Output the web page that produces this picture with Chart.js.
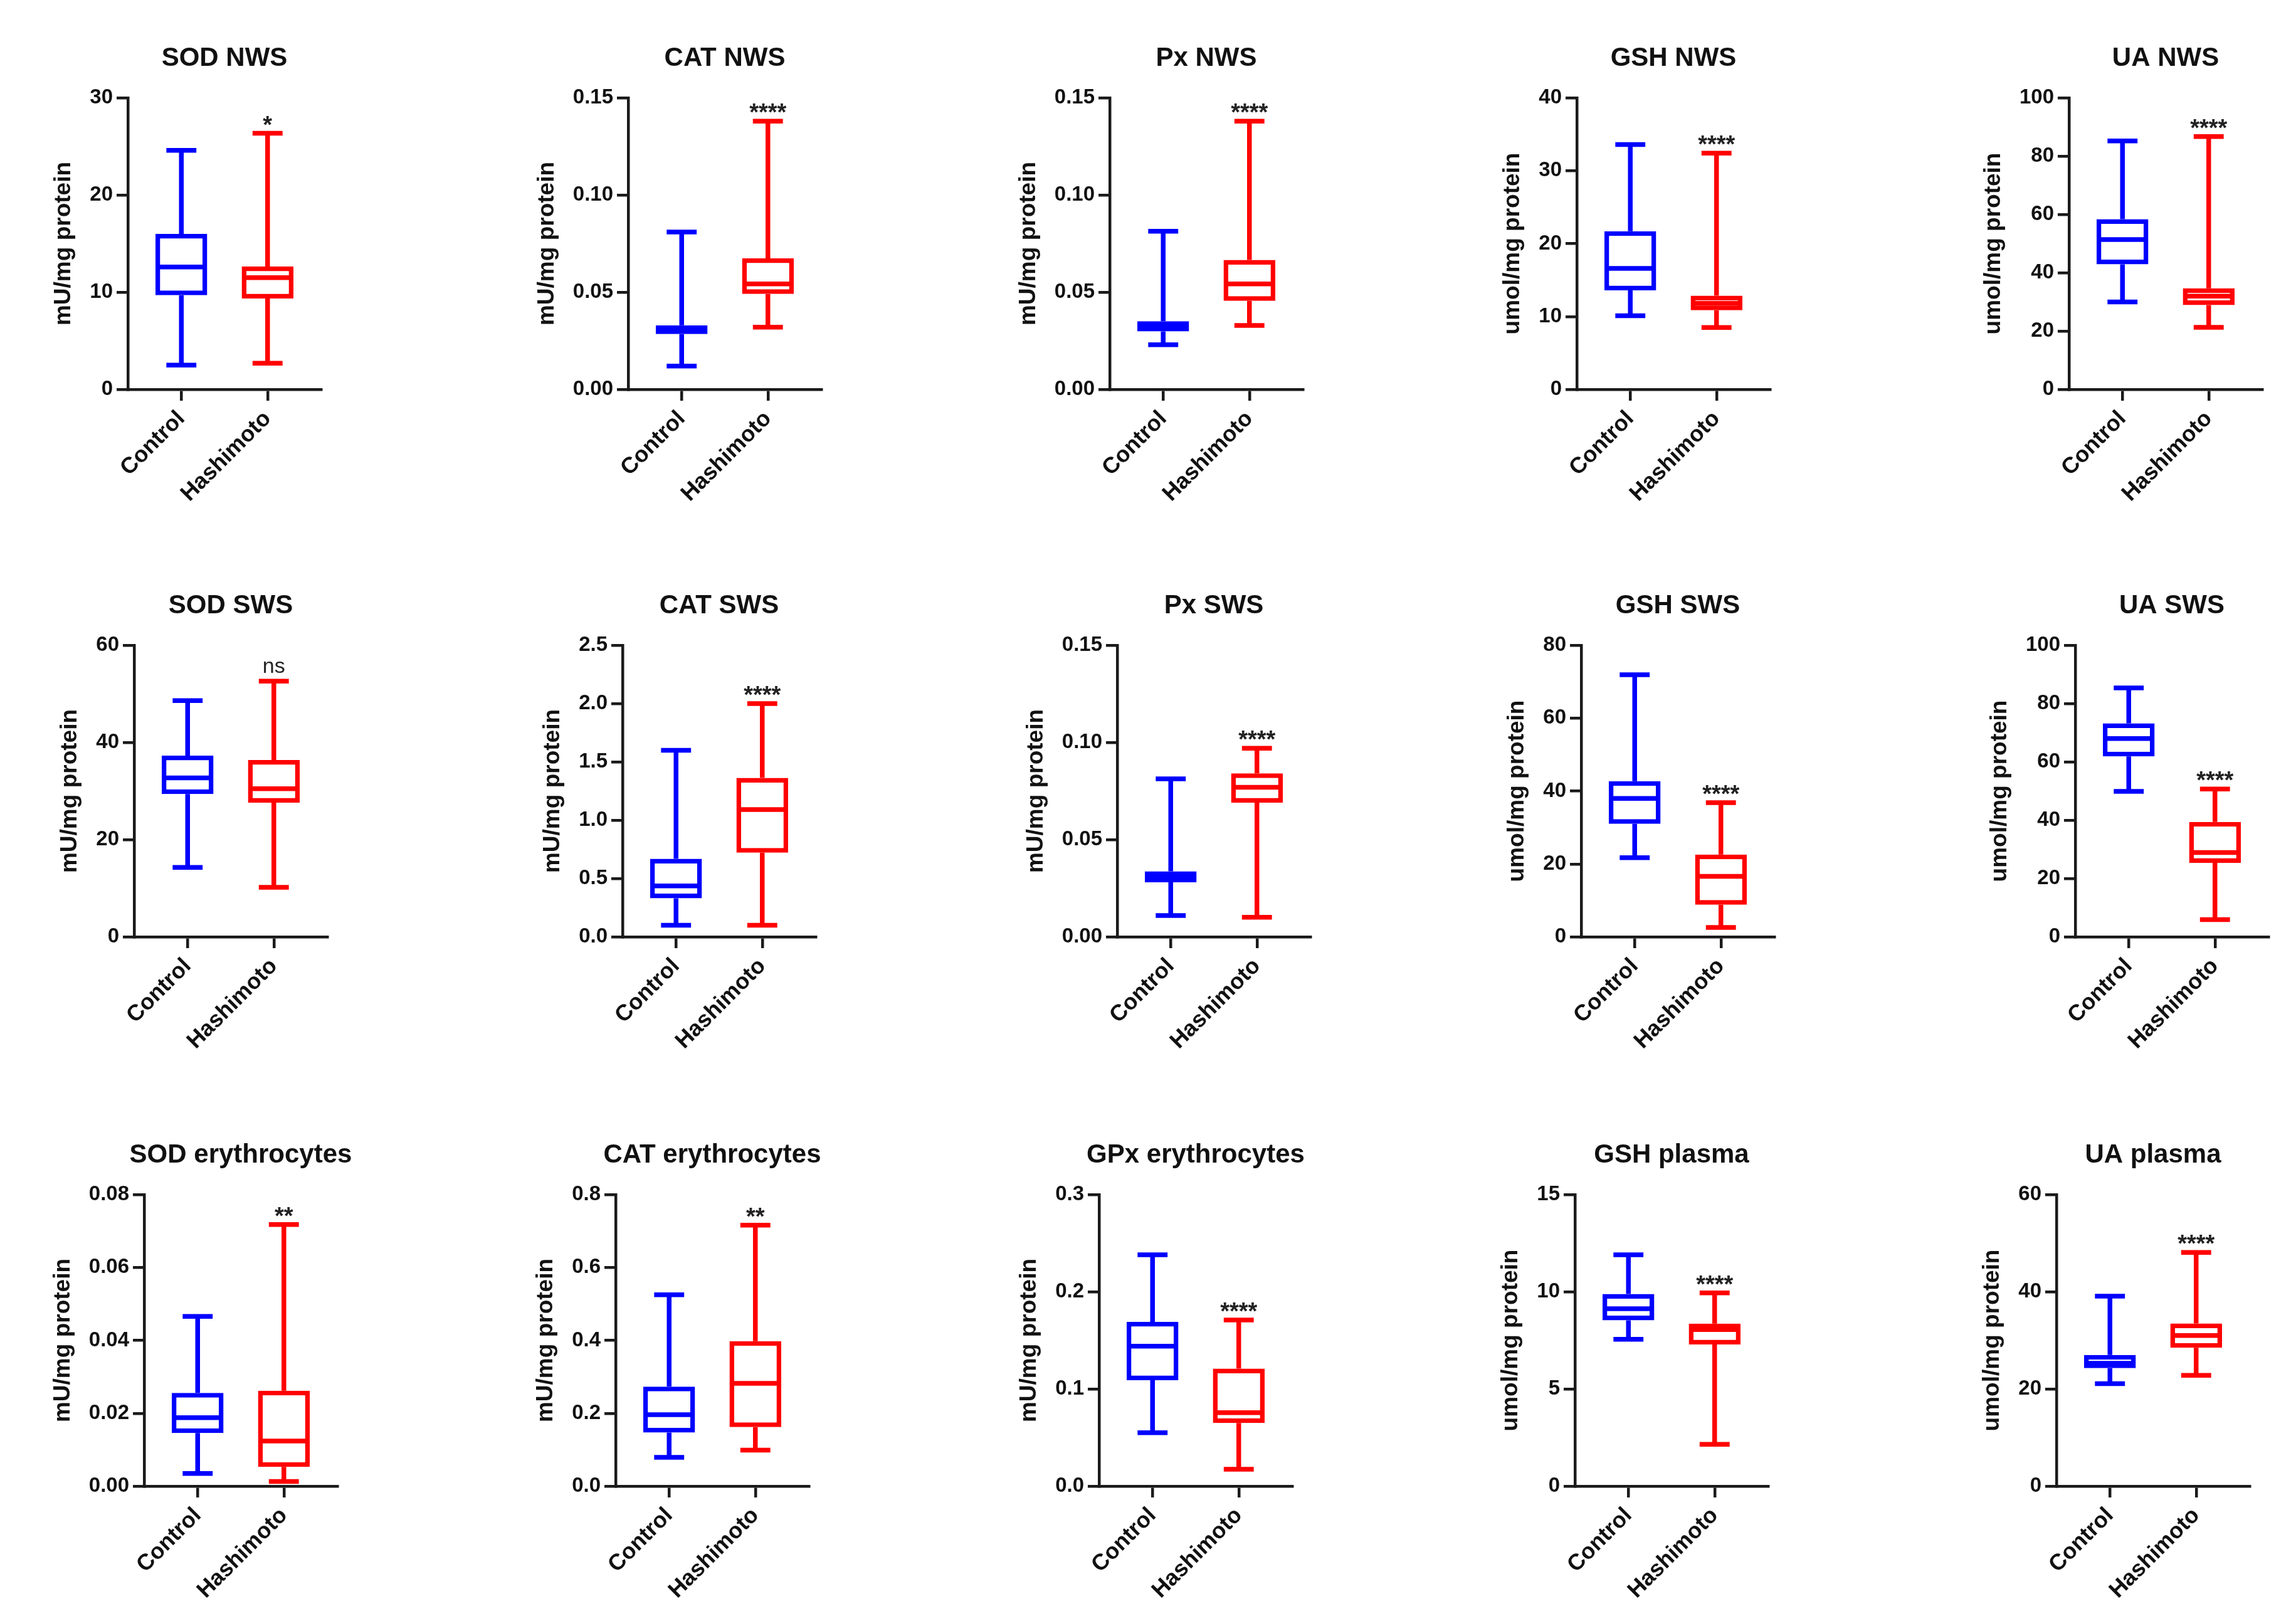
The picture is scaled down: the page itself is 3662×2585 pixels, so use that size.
<!DOCTYPE html>
<html lang="en">
<head>
  <meta charset="UTF-8">
  <title>Antioxidant box plots</title>
  <script src="https://cdn.jsdelivr.net/npm/chart.js@4.4.0/dist/chart.umd.min.js"></script>
  <style>
    html, body { margin: 0; padding: 0; background: #fff; }
    #wrap { position: relative; width: 3662px; height: 2585px; overflow: hidden; background: #fff; }
    #wrap canvas { position: absolute; }
  </style>
</head>
<body>
  <div id="wrap"></div>
  <script>
    // groups and panels
    const groups = ['Control', 'Hashimoto'];
    const groupColors = ['#0000ff', '#ff0000'];
    const titles = ['SOD NWS', 'CAT NWS', 'Px NWS', 'GSH NWS', 'UA NWS',
      'SOD SWS', 'CAT SWS', 'Px SWS', 'GSH SWS', 'UA SWS',
      'SOD erythrocytes', 'CAT erythrocytes', 'GPx erythrocytes', 'GSH plasma', 'UA plasma'];
    const yTitles = ['mU/mg protein', 'mU/mg protein', 'mU/mg protein', 'umol/mg protein', 'umol/mg protein',
      'mU/mg protein', 'mU/mg protein', 'mU/mg protein', 'umol/mg protein', 'umol/mg protein',
      'mU/mg protein', 'mU/mg protein', 'mU/mg protein', 'umol/mg protein', 'umol/mg protein'];

    // y axis ticks
    const yMax = [30, 0.15, 0.15, 40, 100, 60, 2.5, 0.15, 80, 100, 0.08, 0.8, 0.3, 15, 60];
    const yStep = [10, 0.05, 0.05, 10, 20, 20, 0.5, 0.05, 20, 20, 0.02, 0.2, 0.1, 5, 20];
    const yDecimals = [0, 2, 2, 0, 0, 0, 1, 2, 0, 0, 2, 1, 1, 0, 0];

    // box plot values (min, Q1, median, Q3, max)
    const ctrlMin = [2.5, 0.012, 0.023, 10.1, 30, 14.3, 0.10, 0.011, 21.7, 49.9, 0.0035, 0.079, 0.055, 7.56, 21.1];
    const ctrlQ1 = [9.7, 0.0285, 0.0298, 13.6, 42.9, 29.4, 0.33, 0.0281, 31.0, 61.9, 0.0146, 0.147, 0.109, 8.53, 24.3];
    const ctrlMed = [12.6, 0.031, 0.0325, 16.6, 51.4, 32.7, 0.437, 0.0311, 38.0, 68.0, 0.0188, 0.196, 0.144, 9.13, 25.3];
    const ctrlQ3 = [16.0, 0.033, 0.0351, 21.7, 58.4, 37.3, 0.67, 0.0337, 42.7, 73.2, 0.0256, 0.273, 0.169, 9.89, 27.0];
    const ctrlMax = [24.6, 0.081, 0.0814, 33.6, 85.2, 48.6, 1.60, 0.0813, 71.9, 85.4, 0.0466, 0.525, 0.238, 11.9, 39.1];
    const hashMin = [2.7, 0.032, 0.0329, 8.5, 21.3, 10.2, 0.10, 0.0101, 2.6, 5.9, 0.0013, 0.099, 0.0175, 2.15, 22.8];
    const hashQ1 = [9.36, 0.0491, 0.0456, 10.85, 28.9, 27.6, 0.722, 0.069, 8.8, 25.4, 0.0053, 0.162, 0.065, 7.29, 28.5];
    const hashMed = [11.5, 0.0543, 0.0543, 11.8, 32.0, 30.5, 1.092, 0.0769, 16.6, 28.9, 0.0124, 0.282, 0.0756, 8.06, 31.0];
    const hashQ3 = [12.65, 0.0674, 0.0666, 12.86, 34.7, 36.4, 1.363, 0.0841, 22.6, 39.4, 0.0262, 0.398, 0.121, 8.36, 33.5];
    const hashMax = [26.35, 0.138, 0.138, 32.4, 86.7, 52.6, 2.0, 0.097, 36.8, 50.7, 0.0718, 0.716, 0.171, 9.94, 48.1];
    const significance = ['*', '****', '****', '****', '****', 'ns', '****', '****', '****', '****', '**', '**', '****', '****', '****'];

    // page layout (pixel position of each y axis and row top)
    const axisLeft = [204, 1002, 1770, 2515, 3300, 214, 993, 1782, 2522, 3310, 230, 982, 1753, 2512, 3280];
    const rowTop = [156, 1029, 1905];
    const PLOT_W = 308, PLOT_H = 465;
    const TOP_PAD = 100, X_H = 230, RIGHT_PAD = 30;
    const TICK_LEN = 18, TICK_PAD = 6;
    const YT_SIZE = 37, YT_PAD_T = 4, YT_PAD_B = 18;
    const LW = 7.5, AXIS_W = 4.5, AXIS_C = '#1a1a1a', TEXT_C = '#111111';
    const FONT = '"Liberation Sans", Arial, Helvetica, sans-serif';

    const wrap = document.getElementById('wrap');
    const mctx = document.createElement('canvas').getContext('2d');
    mctx.font = 'bold 33px ' + FONT;

    // whiskers, medians, caps, stars and panel title
    function boxPlugin(p) {
      const stats = [
        { min: ctrlMin[p], med: ctrlMed[p], q1: ctrlQ1[p], q3: ctrlQ3[p], max: ctrlMax[p] },
        { min: hashMin[p], med: hashMed[p], q1: hashQ1[p], q3: hashQ3[p], max: hashMax[p] }
      ];
      return {
        id: 'boxWhisker' + p,
        afterDatasetsDraw(chart) {
          const ctx = chart.ctx, y = chart.scales.y;
          const meta = chart.getDatasetMeta(0);
          ctx.save();
          ctx.lineWidth = LW;
          ctx.lineCap = 'butt';
          meta.data.forEach((bar, i) => {
            const s = stats[i];
            const half = bar.width / 2, cap = half * 0.58;
            const yMin = y.getPixelForValue(s.min), yMaxP = y.getPixelForValue(s.max);
            const yMed = y.getPixelForValue(s.med);
            ctx.strokeStyle = groupColors[i];
            ctx.beginPath();
            ctx.moveTo(bar.x - half + 1, yMed); ctx.lineTo(bar.x + half - 1, yMed);
            ctx.moveTo(bar.x, y.getPixelForValue(s.q3)); ctx.lineTo(bar.x, yMaxP);
            ctx.moveTo(bar.x - cap, yMaxP); ctx.lineTo(bar.x + cap, yMaxP);
            ctx.moveTo(bar.x, y.getPixelForValue(s.q1)); ctx.lineTo(bar.x, yMin);
            ctx.moveTo(bar.x - cap, yMin); ctx.lineTo(bar.x + cap, yMin);
            ctx.stroke();
          });
          // significance mark above the Hashimoto box
          const hb = meta.data[1];
          const txt = significance[p];
          ctx.font = txt === 'ns' ? '34px ' + FONT : 'bold 38px ' + FONT;
          ctx.fillStyle = '#222';
          ctx.textAlign = 'center';
          ctx.textBaseline = 'alphabetic';
          const m = ctx.measureText(txt);
          ctx.fillText(txt, hb.x, y.getPixelForValue(stats[1].max) - 13 - m.actualBoundingBoxDescent);
          ctx.restore();
        },
        afterDraw(chart) {
          const ctx = chart.ctx, a = chart.chartArea;
          ctx.save();
          ctx.font = 'bold 42px ' + FONT;
          ctx.fillStyle = TEXT_C;
          ctx.textAlign = 'center';
          ctx.textBaseline = 'middle';
          ctx.fillText(titles[p], (a.left + a.right) / 2, a.top - 63);
          ctx.restore();
        }
      };
    }

    for (let p = 0; p < titles.length; p++) {
      const tickVals = [];
      const n = Math.round(yMax[p] / yStep[p]);
      for (let k = 0; k <= n; k++) tickVals.push(+(k * yStep[p]).toFixed(6));
      const fmt = v => Number(v).toFixed(yDecimals[p]);
      const labelW = Math.max(...tickVals.map(v => mctx.measureText(fmt(v)).width));
      const yw = Math.ceil(TICK_LEN + TICK_PAD + labelW + YT_PAD_B + YT_SIZE * 1.2 + YT_PAD_T);

      const cv = document.createElement('canvas');
      cv.width = yw + PLOT_W + RIGHT_PAD;
      cv.height = TOP_PAD + PLOT_H + X_H;
      cv.style.left = (axisLeft[p] - yw) + 'px';
      cv.style.top = (rowTop[Math.floor(p / 5)] - TOP_PAD) + 'px';
      wrap.appendChild(cv);

      new Chart(cv, {
        type: 'bar',
        data: {
          datasets: [{
            data: [
              { x: 0, y: [ctrlQ1[p], ctrlQ3[p]] },
              { x: 1, y: [hashQ1[p], hashQ3[p]] }
            ],
            backgroundColor: '#ffffff',
            borderColor: groupColors,
            borderWidth: LW,
            borderSkipped: false,
            barPercentage: 0.6,
            categoryPercentage: 1
          }]
        },
        options: {
          responsive: false,
          animation: false,
          devicePixelRatio: 1,
          layout: { padding: { left: 0, right: RIGHT_PAD, top: TOP_PAD, bottom: 0 } },
          plugins: {
            legend: { display: false },
            tooltip: { enabled: false },
            title: { display: false }
          },
          scales: {
            x: {
              type: 'linear',
              min: -0.62,
              max: 1.62,
              offset: false,
              afterBuildTicks: s => { s.ticks = [{ value: 0 }, { value: 1 }]; },
              afterFit: s => { s.height = X_H; },
              grid: { drawOnChartArea: false, offset: false, tickLength: TICK_LEN, lineWidth: AXIS_W, color: AXIS_C },
              border: { display: true, width: AXIS_W, color: AXIS_C },
              ticks: {
                autoSkip: false, maxRotation: 45, minRotation: 45, padding: 8,
                color: TEXT_C, font: { family: FONT, size: 36, weight: 'bold' },
                callback: v => groups[v]
              }
            },
            y: {
              type: 'linear',
              min: 0,
              max: yMax[p],
              afterBuildTicks: s => { s.ticks = tickVals.map(v => ({ value: v })); },
              afterFit: s => { s.width = yw; },
              grid: { drawOnChartArea: false, tickLength: TICK_LEN, lineWidth: AXIS_W, color: AXIS_C },
              border: { display: true, width: AXIS_W, color: AXIS_C },
              ticks: {
                padding: TICK_PAD, color: TEXT_C,
                font: { family: FONT, size: 33, weight: 'bold' },
                callback: v => fmt(v)
              },
              title: {
                display: true, text: yTitles[p], color: TEXT_C,
                font: { family: FONT, size: YT_SIZE, weight: 'bold' },
                padding: { top: YT_PAD_T, bottom: YT_PAD_B }
              }
            }
          }
        },
        plugins: [boxPlugin(p)]
      });
    }
  </script>
</body>
</html>
